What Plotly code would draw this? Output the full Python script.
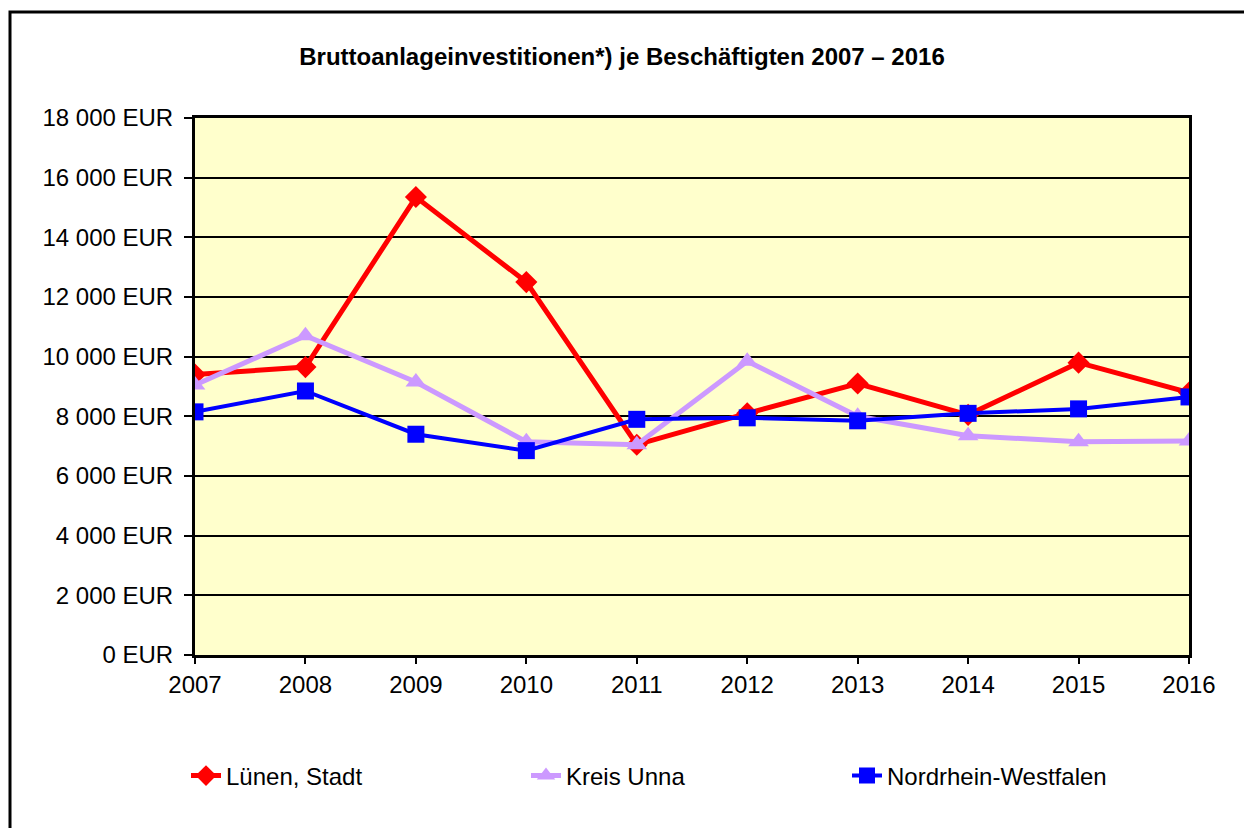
import plotly.graph_objects as go

years = [2007, 2008, 2009, 2010, 2011, 2012, 2013, 2014, 2015, 2016]

luenen = [9400, 9650, 15350, 12500, 7050, 8100, 9100, 8050, 9800, 8800]
kreis_unna = [9050, 10700, 9150, 7150, 7050, 9850, 8000, 7350, 7150, 7170]
nrw = [8150, 8850, 7400, 6850, 7900, 7950, 7850, 8100, 8250, 8650]

y_ticks = [0, 2000, 4000, 6000, 8000, 10000, 12000, 14000, 16000, 18000]
y_labels = ['0 EUR', '2 000 EUR', '4 000 EUR', '6 000 EUR', '8 000 EUR',
            '10 000 EUR', '12 000 EUR', '14 000 EUR', '16 000 EUR', '18 000 EUR']

# page has an 8px body margin, so work in page pixels and shift
OFF = 8
W, H = 1244, 820
L, T = 195 - OFF, 118 - OFF
PW, PH = 994, 537
R = W - L - PW
B = H - T - PH


def px_x(x):
    return (x - OFF - L) / PW


def px_y(y):
    return (T + PH - (y - OFF)) / PH


fig = go.Figure()

fig.add_trace(go.Scatter(
    x=years, y=luenen, name='Lünen, Stadt', mode='lines+markers',
    line=dict(color='#FF0000', width=5),
    marker=dict(symbol='diamond', size=17, color='#FF0000'),
    legend='legend'))

fig.add_trace(go.Scatter(
    x=years, y=kreis_unna, name='Kreis Unna', mode='lines+markers',
    line=dict(color='#CC99FF', width=5),
    marker=dict(symbol='triangle-up', size=18, color='#CC99FF'),
    legend='legend2'))

fig.add_trace(go.Scatter(
    x=years, y=nrw, name='Nordrhein-Westfalen', mode='lines+markers',
    line=dict(color='#0000FF', width=4),
    marker=dict(symbol='square', size=17, color='#0000FF'),
    legend='legend3'))

# outer frame around the whole chart
fig.add_shape(type='rect', xref='paper', yref='paper',
              x0=px_x(10), y0=px_y(850), x1=px_x(1270), y1=px_y(12),
              line=dict(color='black', width=3), layer='below')

leg = dict(orientation='h', yanchor='middle', xanchor='left',
           font=dict(size=24), bgcolor='rgba(0,0,0,0)')

fig.update_layout(
    width=W, height=H,
    margin=dict(l=L, r=R, t=T, b=B),
    paper_bgcolor='white',
    plot_bgcolor='#FFFFCC',
    font=dict(family='Liberation Sans, Arial, sans-serif', size=24, color='black'),
    title=dict(text='<b>Bruttoanlageinvestitionen*) je Beschäftigten 2007 – 2016</b>',
               x=(622 - OFF) / W, xref='container', xanchor='center',
               y=1 - (57 - OFF) / H, yref='container', yanchor='middle',
               font=dict(size=24)),
    showlegend=True,
    legend=dict(leg, x=px_x(186), y=px_y(776)),
    legend2=dict(leg, x=px_x(526), y=px_y(776)),
    legend3=dict(leg, x=px_x(847), y=px_y(776)),
)

fig.update_xaxes(range=[2007, 2016], tickvals=years, ticktext=[str(y) for y in years],
                 showgrid=False, zeroline=False,
                 showline=True, linecolor='black', linewidth=3, mirror=True,
                 ticks='outside', ticklen=6, tickwidth=2, tickcolor='black')

fig.update_yaxes(range=[0, 18000], tickvals=y_ticks, ticktext=y_labels,
                 showgrid=True, gridcolor='black', gridwidth=2, zeroline=False,
                 showline=True, linecolor='black', linewidth=3, mirror=True,
                 ticks='outside', ticklen=8, tickwidth=2, tickcolor='black',
                 ticklabelstandoff=6)

fig.write_html('out.html')
